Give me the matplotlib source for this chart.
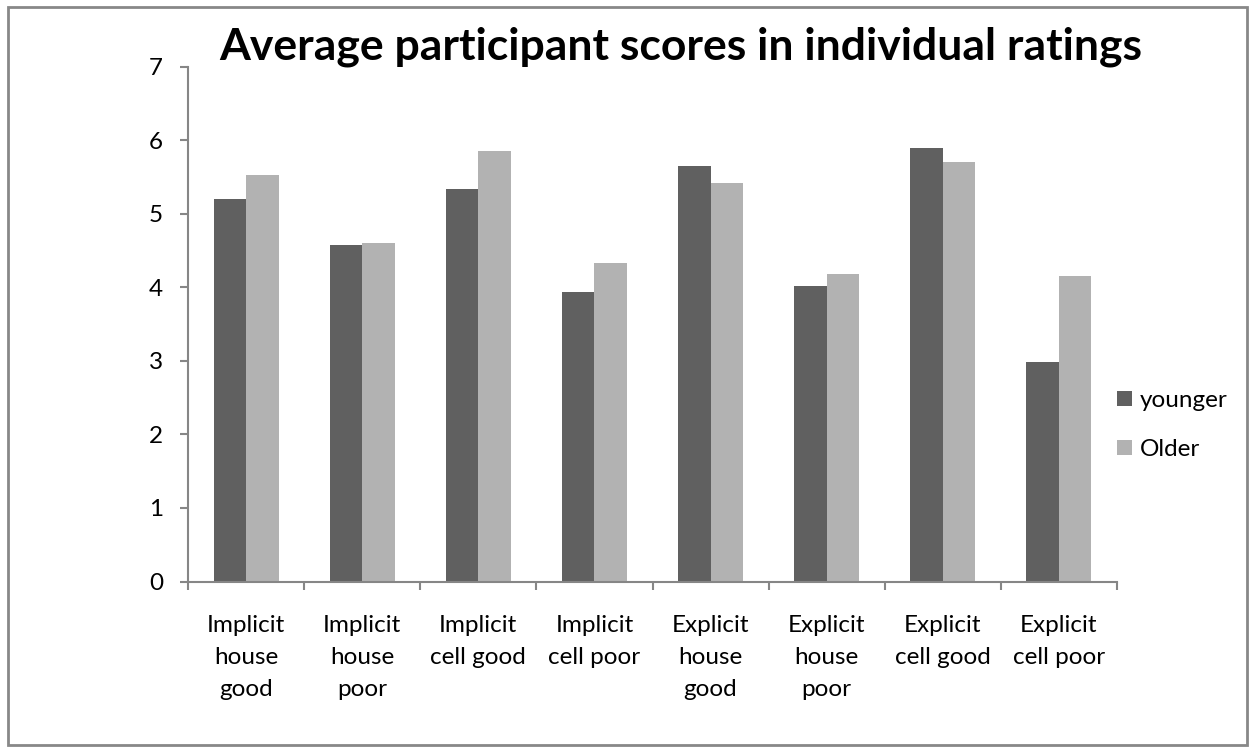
import numpy as np
import matplotlib.pyplot as plt
from matplotlib.patches import Rectangle

plt.rcParams['font.family'] = ['Lato', 'DejaVu Sans']

categories = ['Implicit\nhouse\ngood', 'Implicit\nhouse\npoor', 'Implicit\ncell good',
              'Implicit\ncell poor', 'Explicit\nhouse\ngood', 'Explicit\nhouse\npoor',
              'Explicit\ncell good', 'Explicit\ncell poor']
younger = [5.20, 4.58, 5.33, 3.93, 5.65, 4.02, 5.89, 2.98]
older = [5.52, 4.60, 5.85, 4.33, 5.42, 4.18, 5.70, 4.15]

dark = '#606060'
light = '#b2b2b2'
axcol = '#868686'

fig = plt.figure(figsize=(12.55, 7.52), dpi=100)
ax = fig.add_axes([188/1255, 1-581.5/752, 929/1255, 515/752])

x = np.arange(len(categories)) + 0.5
w = 0.28
ax.bar(x - w/2, younger, w, color=dark, label='younger')
ax.bar(x + w/2, older, w, color=light, label='Older')

ax.set_xlim(0, len(categories))
ax.set_ylim(0, 7)
ax.set_yticks(range(0, 8))
ax.set_xticks(np.arange(len(categories) + 1))
ax.set_xticklabels([])
ax.set_xticks(x, minor=True)
ax.set_xticklabels(categories, minor=True, fontsize=17.5, linespacing=1.65)
ax.tick_params(axis='x', which='minor', length=0, pad=24)
ax.tick_params(axis='x', which='major', length=6, color=axcol, width=1.5)
ax.tick_params(axis='y', length=6, color=axcol, width=1.5, labelsize=17.5, pad=12)

for s in ['top', 'right']:
    ax.spines[s].set_visible(False)
for s in ['left', 'bottom']:
    ax.spines[s].set_color(axcol)
    ax.spines[s].set_linewidth(1.5)

fig.text(681/1255, 1-47/752, 'Average participant scores in individual ratings',
         ha='center', va='center', fontsize=32, fontweight='bold')

leg = ax.legend(loc='center left', bbox_to_anchor=(1117/1255, 1-425/752),
                bbox_transform=fig.transFigure, frameon=False, fontsize=17.5,
                handlelength=0.6, handleheight=0.6, handletextpad=0.35,
                labelspacing=1.15, borderaxespad=0, borderpad=0)

fig.patches.append(Rectangle((8/1255, 1-745/752), 1239/1255, 738/752,
                             transform=fig.transFigure, fill=False,
                             edgecolor='#888888', linewidth=2))

fig.savefig('out.png', dpi=100)
